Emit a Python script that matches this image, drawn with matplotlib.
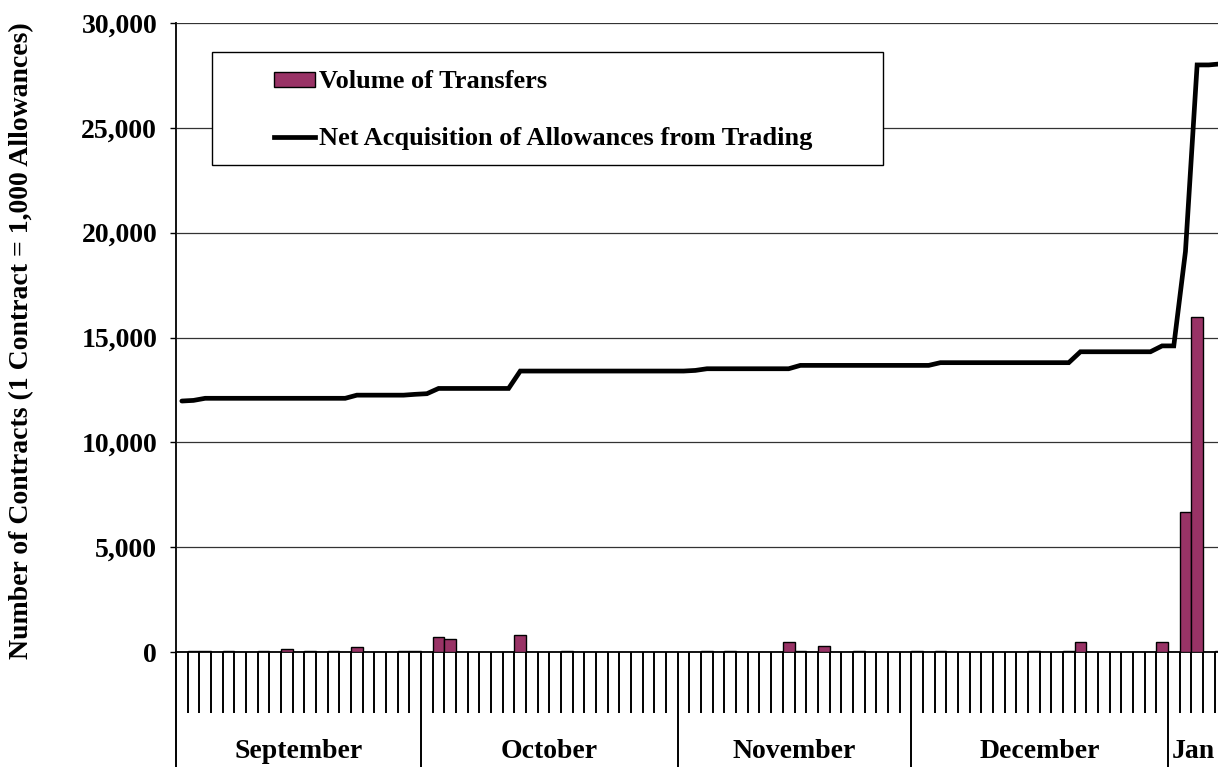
import matplotlib
matplotlib.use("Agg")
import matplotlib.pyplot as plt
from matplotlib.ticker import FuncFormatter, FixedLocator, MultipleLocator
from matplotlib.patches import Rectangle, Patch
from matplotlib.lines import Line2D
import numpy as np

plt.rcParams['font.family'] = ['Liberation Serif', 'DejaVu Serif']
plt.rcParams['font.weight'] = 'bold'

# months shown on the category axis and trading days in each
months = ['September', 'October', 'November', 'December', 'Jan']
month_days = [21, 22, 20, 22, 11]

# daily volume of transfers (contracts)
vol_sep = [0, 60, 60, 0, 60, 0, 0, 60, 0, 140, 0, 60, 0, 60, 0, 220, 0, 0, 0, 60, 60]
vol_oct = [0, 700, 610, 0, 0, 0, 0, 0, 830, 0, 0, 0, 60, 0, 0, 0, 0, 0, 0, 0, 0, 0]
vol_nov = [0, 0, 60, 0, 60, 0, 0, 0, 0, 460, 60, 0, 290, 0, 0, 60, 0, 0, 0, 0]
vol_dec = [60, 0, 60, 0, 0, 0, 0, 0, 0, 0, 60, 0, 0, 60, 480, 0, 0, 0, 0, 0, 0, 500]
vol_jan = [0, 6700, 16000, 0, 60]

# net acquisition of allowances from trading (contracts)
net_sep = [11970, 12000, 12100, 12100, 12100, 12100, 12100, 12100, 12100, 12100, 12100,
           12100, 12100, 12100, 12100, 12250, 12250, 12250, 12250, 12250, 12290]
net_oct = [12320, 12570, 12570, 12570, 12570, 12570, 12570, 12570, 13400, 13400, 13400,
           13400, 13400, 13400, 13400, 13400, 13400, 13400, 13400, 13400, 13400, 13400]
net_nov = [13400, 13430, 13510, 13510, 13510, 13510, 13510, 13510, 13510, 13510,
           13670, 13670, 13670, 13670, 13670, 13670, 13670, 13670, 13670, 13670]
net_dec = [13670, 13670, 13800, 13800, 13800, 13800, 13800, 13800, 13800, 13800, 13800,
           13800, 13800, 13800, 14320, 14320, 14320, 14320, 14320, 14320, 14320, 14600]
net_jan = [14600, 19100, 28000, 28000, 28050]

volume = vol_sep + vol_oct + vol_nov + vol_dec + vol_jan
net = net_sep + net_oct + net_nov + net_dec + net_jan
pos = np.arange(len(volume)) + 0.5

W, H = 1218, 767
fig = plt.figure(figsize=(W / 100, H / 100), dpi=100)
ax = fig.add_axes([176 / W, 115 / H, (W - 176) / W, 629 / H])

ax.bar(pos, volume, width=1.0, color='#993366', edgecolor='black', linewidth=1.0, zorder=3)
ax.plot(pos, net, color='black', linewidth=3.4, solid_capstyle='round',
        solid_joinstyle='miter', zorder=4)

ax.set_ylim(0, 30000)
ax.set_xlim(0, (W - 176) / 11.67)
ax.set_yticks(range(0, 30001, 5000))
ax.yaxis.set_major_formatter(FuncFormatter(lambda v, p: f'{int(v):,}'))
ax.tick_params(axis='y', length=4.5, width=1, pad=9, labelsize=20, direction='out')
ax.grid(axis='y', color='#333333', linewidth=0.9, zorder=0)

# category axis: short ticks between days, long ticks between months
bounds = np.concatenate([[0], np.cumsum(month_days)])
ax.xaxis.set_major_locator(FixedLocator(bounds))
ax.xaxis.set_minor_locator(MultipleLocator(1))
ax.tick_params(axis='x', which='major', length=83, width=1.4, labelbottom=False, direction='out')
ax.tick_params(axis='x', which='minor', length=44, width=1.4, direction='out')

for s in ['top', 'right']:
    ax.spines[s].set_visible(False)
ax.spines['left'].set_linewidth(1.3)
ax.spines['bottom'].set_linewidth(1.3)
ax.set_axisbelow(False)

for name, lo, hi in zip(months[:-1], bounds[:-2], bounds[1:-1]):
    ax.annotate(name, xy=((lo + hi) / 2, 0), xytext=(0, -72), textcoords='offset points',
                ha='center', va='center', fontsize=20, fontweight='bold',
                annotation_clip=False)
# last month runs off the right edge; only its start is visible
ax.annotate(months[-1], xy=(bounds[-2], 0), xytext=(3, -72), textcoords='offset points',
            ha='left', va='center', fontsize=20, fontweight='bold', annotation_clip=False)

fig.text(22 / W, 1 - 341 / H, 'Number of Contracts (1 Contract = 1,000 Allowances)',
         rotation=90, ha='center', va='center', fontsize=20, fontweight='bold')

# legend box
fig.add_artist(Rectangle((212 / W, 1 - 165 / H), (883 - 212) / W, (165 - 52) / H,
                         transform=fig.transFigure, facecolor='white', edgecolor='black',
                         linewidth=1.0, zorder=5))
handles = [Patch(facecolor='#993366', edgecolor='black', linewidth=1.0),
           Line2D([0], [0], color='black', linewidth=3.4)]
leg = fig.legend(handles, ['Volume of Transfers', 'Net Acquisition of Allowances from Trading'],
                 loc='upper left', bbox_to_anchor=(256 / W, 1 - 52 / H), frameon=False,
                 fontsize=19, handlelength=1.55, handleheight=0.5, handletextpad=0.12,
                 labelspacing=1.28, borderpad=0.2)
leg.set_zorder(6)
for t in leg.get_texts():
    t.set_fontweight('bold')

fig.savefig('out.png', dpi=100)
